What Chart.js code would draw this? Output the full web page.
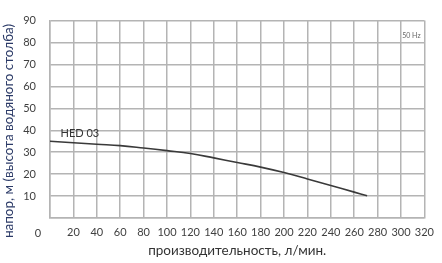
<!DOCTYPE html>
<html>
<head>
<meta charset="utf-8">
<script src="https://cdn.jsdelivr.net/npm/chart.js@4"></script>
<style>
  html, body { margin: 0; padding: 0; background: #fff; }
  #wrap { width: 442px; height: 263px; }
</style>
</head>
<body>
<div id="wrap"><canvas id="chart" width="442" height="263"></canvas></div>
<script>
// flow, l/min and head, m
const flow = [0, 20, 40, 60, 80, 100, 120, 140, 160, 180, 200, 220, 240, 260, 271];
const head = [35.0, 34.3, 33.6, 33.0, 31.9, 30.7, 29.4, 27.4, 25.3, 23.2, 20.7, 17.8, 14.8, 11.8, 10.1];
const curveName = 'HED 03';
const freqLabel = '50 Hz';
const xTitle = 'производительность, л/мин.';
const yTitle = 'напор, м (высота водяного столба)';

const font = "'Lato', 'Liberation Sans', sans-serif";
const gridColor = '#b4b4b4';

// extra texts: curve name, frequency tag, y title and shared origin "0"
const labelsPlugin = {
  id: 'labels',
  afterDraw(chart) {
    const { ctx, chartArea, scales: { x, y } } = chart;
    ctx.save();
    ctx.fillStyle = '#333';
    ctx.font = '11px ' + font;
    ctx.textAlign = 'left';
    ctx.textBaseline = 'middle';
    ctx.fillText(curveName, x.getPixelForValue(9), y.getPixelForValue(38.5));
    ctx.font = '7px ' + font;
    ctx.fillStyle = '#666';
    ctx.fillText(freqLabel, x.getPixelForValue(301), y.getPixelForValue(83));
    ctx.font = '11px ' + font;
    ctx.fillStyle = '#404040';
    ctx.textAlign = 'center';
    ctx.fillText('0', chartArea.left - 12, chartArea.bottom + 15);
    ctx.translate(9, 131);
    ctx.rotate(-Math.PI / 2);
    ctx.font = '13.5px ' + font;
    ctx.fillStyle = '#2b3a67';
    ctx.fillText(yTitle, 0, 0);
    ctx.restore();
  }
};

new Chart(document.getElementById('chart'), {
  type: 'line',
  data: {
    datasets: [{
      data: flow.map((f, i) => ({ x: f, y: head[i] })),
      borderColor: '#3a3a3a',
      borderWidth: 1.6,
      pointRadius: 0,
      tension: 0.4,
      fill: false
    }]
  },
  options: {
    responsive: false,
    animation: false,
    layout: { padding: { top: 5, right: 14, left: 0, bottom: 0 } },
    plugins: { legend: { display: false }, tooltip: { enabled: false } },
    scales: {
      x: {
        type: 'linear', min: 0, max: 320,
        ticks: {
          stepSize: 20, color: '#404040', padding: 8,
          maxRotation: 0, autoSkip: false,
          font: { family: font, size: 11 },
          callback: v => v === 0 ? '' : v
        },
        grid: { color: gridColor, lineWidth: 1.5, drawTicks: false },
        border: { color: gridColor, width: 1.5 },
        title: { display: true, text: xTitle, color: '#333', font: { family: font, size: 13.5 }, padding: { top: 0 } },
        afterFit: s => { s.height = 45; }
      },
      y: {
        min: 0, max: 90,
        ticks: {
          stepSize: 10, color: '#404040', padding: 14,
          font: { family: font, size: 11 },
          callback: v => v === 0 ? '' : v
        },
        grid: { color: gridColor, lineWidth: 1.5, drawTicks: false },
        border: { color: gridColor, width: 1.5 },
        title: { display: false },
        afterFit: s => { s.width = 50; }
      }
    }
  },
  plugins: [labelsPlugin]
});
</script>
</body>
</html>
